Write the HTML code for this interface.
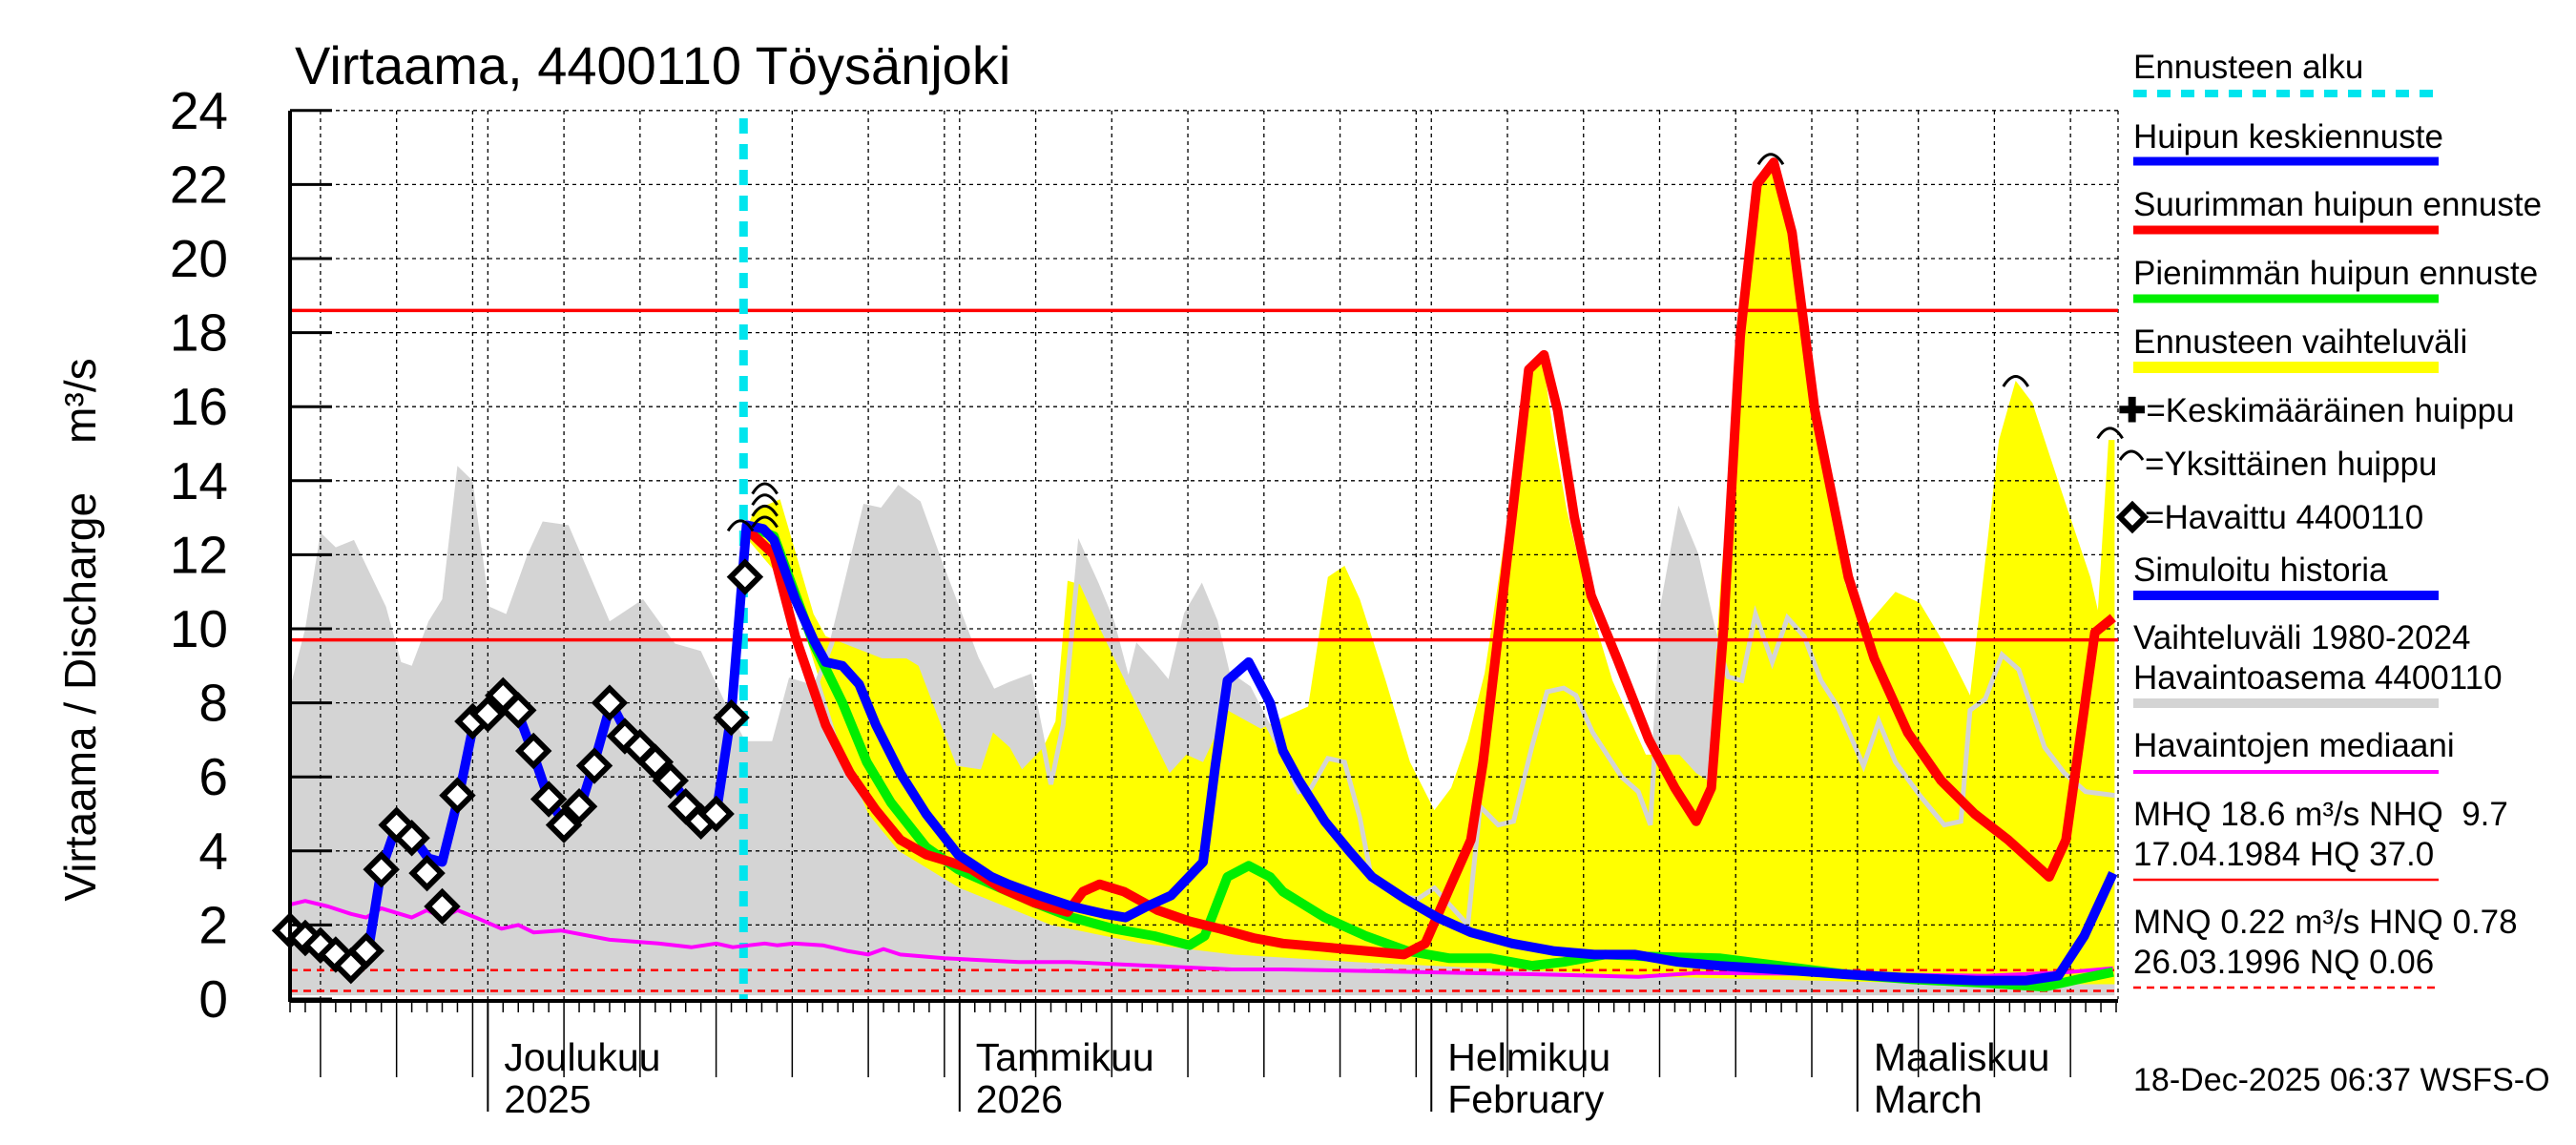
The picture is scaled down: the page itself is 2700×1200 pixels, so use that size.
<!DOCTYPE html>
<html><head><meta charset="utf-8"><style>
html,body{margin:0;padding:0;background:#fff}
svg{display:block}
text{font-family:"Liberation Sans",Arial,sans-serif;fill:#000}
</style></head><body>
<svg id="chart" width="2700" height="1200" viewBox="0 0 2700 1200" xmlns="http://www.w3.org/2000/svg">
<g id="bg"></g>
</svg>
<script>
// ---- data ----
const greyDays=[0,1,2,3,4.2,6.3,7.3,8,9.1,10,11,12,13.1,14.2,15.6,16.6,18.3,21,23.2,25.3,27,28.6,30,31.8,32.9,34.5,35.6,37.8,38.9,40,41.3,42.7,45.1,46.2,47.3,48.6,50,50.8,51.9,53,54,55.1,55.7,56.8,57.8,58.9,59.9,60.8,61.6,63,65.25,66.3,67.1,68.2,69.3,70.3,71.1,72.8,74.1,75.2,76.3,77.4,78.2,79.4,80.4,81.6,82.6,83.7,84.5,85.6,87.5,88.6,89.4,90.2,91.3,92.4,93.5,94.5,95.4,96.3,97.4,98.4,99.5,100.6,101.7,103.4,104.4,105.5,107.1,108.7,109.8,110.4,111.4,112.5,113.6,115.3,116.6,118,119.9];
const greyHigh=[8.4,10,12.6,12.2,12.4,10.6,9.1,9.0,10.2,10.8,14.4,14,10.6,10.4,12,12.9,12.8,10.2,10.8,9.6,9.4,8,6.9,6.9,8.6,8.4,9.6,13.3,13.2,13.8,13.4,11.8,9.2,8.3,8.5,8.7,5.8,7.4,12.2,11.2,10.2,8.5,9.5,9.0,8.5,10.4,11.1,10.2,8.8,8.4,6.6,5.6,5.7,6.5,6.4,4.9,3.2,2.8,2.7,3.0,2.5,2.0,5.2,4.7,4.8,6.8,8.3,8.4,8.2,7.2,6.0,5.6,4.7,10.6,13.1,12,10,8.7,8.6,10.4,9.1,10.3,9.8,8.6,7.9,6.3,7.5,6.4,5.5,4.7,4.8,7.8,8.1,9.3,8.9,6.8,6.1,5.6,5.5];
const greyLow=[0.1,0.1];
const yelDays=[29.9,30.5,32.2,34.4,35.2,38.9,40.5,41.3,43.8,45.4,46.2,47.3,48.1,49.5,50.3,51.1,51.9,53,55.1,57.8,58.9,60,61.6,63.8,65.25,66.9,68.2,69.3,70.3,72,73.6,75.2,76.3,77.4,78.5,80.1,81.2,82.3,83.1,83.9,85.3,86.9,89.1,91.3,92.4,93.2,94,95.1,96.2,97.3,98.4,100.1,102.2,103.4,105.5,107.1,108.7,110.4,112.3,113.4,114.5,116.1,118.3,118.8,119.5,119.9];
const yelHigh=[12.6,13.2,13.5,10.4,9.8,9.2,9.2,9.0,6.3,6.2,7.2,6.8,6.2,6.8,7.5,11.3,11.2,10.2,8.4,6.1,6.6,6.4,7.8,7.3,7.6,7.9,11.4,11.7,10.8,8.6,6.4,5.1,5.7,7.0,8.8,13.2,16.9,17.3,15.1,13.2,10.8,8.6,6.6,6.6,6.1,5.9,11.2,16.7,22,22.7,20.8,15.9,11.2,10,11,10.7,9.6,8.2,15.1,16.7,16.1,14.1,11.4,10.5,15.1,15.1];
const yelLowDays=[29.9,33,36,38,40,44,50,56,62,70,80,90,100,110,119.9];
const yelLow=[12.5,11,7,5,4,3,2,1.5,1.2,1.0,0.8,0.6,0.5,0.4,0.4];
const obsDays=[0,1,2,3,4,5,6,7,8,9,10,11,12,13,14,15,16,17,18,19,20,21,22,23,24,25,26,27,28,29,29.9];
const obsVals=[1.85,1.65,1.45,1.2,0.9,1.3,3.5,4.7,4.35,3.4,2.5,5.5,7.5,7.7,8.2,7.8,6.7,5.4,4.7,5.2,6.3,8.0,7.1,6.8,6.4,5.9,5.2,4.8,5.0,7.6,11.4];
const blueDays=[0,1,2,3,4.1,5.1,6,7.1,8.2,9.1,10,11.1,12.1,13.1,14.1,15,16,17,18.1,19.1,20,21.1,22.1,23.1,24.1,25.1,26.1,27.1,28,29,30,31.1,31.8,33.2,34.4,35.2,36.3,37.4,38.5,40.1,41.8,43.9,46.1,47.2,49.2,51.4,53.5,54.9,56.3,57.9,60,60.8,61.6,63,64.4,65.25,66.3,68,69.6,71.1,73.3,75.4,77.6,80.3,83,85.7,88.4,91.2,93.9,97.7,102.1,106.4,110.8,114.1,116.2,117.9,119.8];
const blueVals=[1.8,1.5,1.3,1.1,0.9,1.2,3.5,4.8,4.3,3.8,3.7,5.5,7.5,7.7,8.2,7.7,6.6,5.4,4.7,5.2,6.4,8,7.2,6.9,6.4,5.9,5.3,4.8,5.0,7.7,12.8,12.7,12.4,10.8,9.7,9.1,9.0,8.5,7.4,6.1,5.0,3.9,3.3,3.1,2.8,2.5,2.3,2.2,2.5,2.8,3.7,6.3,8.6,9.1,8,6.7,5.9,4.8,4.0,3.3,2.7,2.2,1.8,1.5,1.3,1.2,1.2,1.0,0.9,0.8,0.67,0.57,0.5,0.5,0.63,1.7,3.4];
const redDays=[30,31.8,33.2,35.2,36.8,38.5,40.1,41.8,43.4,44.8,46.7,48.9,51.1,52.1,53.2,54.8,57,59.1,61.1,63.3,65.25,68,70.7,73.2,74.6,76.2,77.6,78.4,79.5,80.6,81.4,82.4,83.3,84.4,85.5,87.2,89.3,91,92.4,93.4,94.2,95.3,96.4,97.5,98.7,100.2,102.4,104.1,106.3,108.5,110.7,112.9,115.6,116.7,118.6,119.8];
const redVals=[12.7,12.0,9.8,7.4,6.1,5.1,4.3,3.9,3.7,3.5,3.0,2.6,2.35,2.9,3.1,2.9,2.4,2.1,1.9,1.65,1.5,1.4,1.3,1.2,1.5,3.0,4.3,6.4,10.2,14.1,17.0,17.4,15.9,13,10.9,9.2,7.0,5.7,4.8,5.7,10,17.9,22.0,22.6,20.7,15.9,11.4,9.2,7.2,5.9,5.0,4.3,3.3,4.3,9.9,10.3];
const greenDays=[30,31.8,34.4,36.3,37.9,39.5,41.8,43.9,46.1,48.9,51.4,54.1,56.8,59.1,60.1,61.6,63,64.4,65.25,68,70.7,73.4,76.2,78.9,81.6,83.7,86.4,89.1,94,97.8,102.2,106.6,111.5,115.3,117.5,119.8];
const greenVals=[12.8,12.5,9.6,8.0,6.4,5.3,4.1,3.5,3.1,2.6,2.2,1.9,1.7,1.45,1.7,3.3,3.6,3.3,2.9,2.2,1.7,1.3,1.1,1.1,0.9,1.0,1.2,1.15,1.1,0.9,0.67,0.53,0.43,0.33,0.53,0.73];
const medDays=[0,1,2.5,4,5,6,8,9,10,11,12.2,13.9,15,16,17.8,21,24.2,26.4,28,29.1,31.2,32,33.1,35,36.6,38,39,40.1,43,47.9,51.2,56.5,61.9,65.25,81.6,88.6,92.4,103.4,111.5,116.9,119.8];
const medVals=[2.55,2.65,2.5,2.3,2.2,2.45,2.2,2.4,2.2,2.4,2.2,1.9,2.0,1.8,1.85,1.6,1.5,1.4,1.5,1.4,1.5,1.45,1.5,1.45,1.3,1.2,1.35,1.2,1.1,1.0,1.0,0.9,0.8,0.8,0.67,0.6,0.7,0.67,0.63,0.73,0.83];
const peakDays=[31.2,31.2,31.2,31.2,29.6,97.3,113.4,119.6];
const peakVals=[12.9,13.2,13.5,13.8,12.8,22.7,16.7,15.3];
const yTicks=[0,2,4,6,8,10,12,14,16,18,20,22,24];
const monthDays=[13,44,75,103];
const monthLabels=[["Joulukuu","2025"],["Tammikuu","2026"],["Helmikuu","February"],["Maaliskuu","March"]];
const gridDays=[2,7,12,18,23,28,33,38,43,49,54,59,64,69,74,80,85,90,95,100,107,112,117];
const fcDay=29.8, MHQ=18.6, NHQ=9.7, HNQ=0.78, MNQ=0.22;

// ---- axes ----
const X0=304, PXD=15.95, Y0=1047, PXV=38.8, XR=2220, YT=116;
const X=d=>X0+d*PXD, Y=v=>Y0-v*PXV;
const svg=document.getElementById('chart'), NS='http://www.w3.org/2000/svg';
function mk(tag,attrs,parent){const e=document.createElementNS(NS,tag);for(const k in attrs)e.setAttribute(k,attrs[k]);(parent||svg).appendChild(e);return e;}
function pts(ds,vs){return ds.map((d,i)=>X(d).toFixed(1)+','+Y(vs[i]).toFixed(1)).join(' ');}

let g=mk('polygon',{points:pts(greyDays,greyHigh)+' '+X(greyDays[greyDays.length-1])+','+Y(greyLow[1])+' '+X(0)+','+Y(greyLow[0]),fill:'#d4d4d4'});


const yl=yelLowDays.slice().reverse(), ylv=yelLow.slice().reverse();
let yb=mk('polygon',{points:pts(yelDays,yelHigh)+' '+pts(yl,ylv),fill:'#ffff00'});


const gi=greyDays.findIndex(d=>d>=fcDay);
let gl=mk('polyline',{points:pts(greyDays.slice(gi),greyHigh.slice(gi)),fill:'none',stroke:'#d4d4d4','stroke-width':5});



for(const v of yTicks){ if(v===0)continue;
 let l=mk('line',{x1:X0,x2:XR,y1:Y(v),y2:Y(v),stroke:'#000','stroke-width':1.3,'stroke-dasharray':'4,4'});
 
 
}
for(const d of gridDays.concat(monthDays)){
 let l=mk('line',{x1:X(d),x2:X(d),y1:YT,y2:Y0,stroke:'#000','stroke-width':1.3,'stroke-dasharray':'4,4'});
 
 
}
mk('line',{x1:XR,x2:XR,y1:YT,y2:Y0,stroke:'#000','stroke-width':1.3,'stroke-dasharray':'4,4'});

[[MHQ,'mhq-line',''],[NHQ,'nhq-line',''],[HNQ,'hnq-line','8,6'],[MNQ,'mnq-line','8,6']].forEach(r=>{
 let l=mk('line',{x1:X0,x2:XR,y1:Y(r[0]),y2:Y(r[0]),stroke:'#ff0000','stroke-width':r[2]?2.5:3.5,'stroke-dasharray':r[2]});
 
 
});

let fc=mk('line',{x1:X(fcDay),x2:X(fcDay),y1:YT+8,y2:Y0,stroke:'#00e5ee','stroke-width':9,'stroke-dasharray':'16,11'});



function line(ds,vs,col,w,name){let p=mk('polyline',{points:pts(ds,vs),fill:'none',stroke:col,'stroke-width':w,'stroke-linejoin':'round'});
 
 return p;}
line(medDays,medVals,'#ff00ff',4,'median-line');
line(greenDays,greenVals,'#00ee00',10,'min-peak-forecast-line');
line(redDays,redVals,'#ff0000',10,'max-peak-forecast-line');
line(blueDays,blueVals,'#0000ff',10,'mean-forecast-line');

obsDays.forEach((d,i)=>{const x=X(d),y=Y(obsVals[i]),s=15;
 let p=mk('polygon',{points:`${x},${y-s} ${x+s},${y} ${x},${y+s} ${x-s},${y}`,fill:'#fff',stroke:'#000','stroke-width':6});
 
 
});
peakDays.forEach((d,i)=>{const x=X(d),y=Y(peakVals[i]);
 let p=mk('path',{d:`M${x-13},${y+6} Q${x},${y-15} ${x+13},${y+6}`,fill:'none',stroke:'#000','stroke-width':3});
 
 
});

mk('line',{x1:X0,x2:X0,y1:YT,y2:Y0+3,stroke:'#000','stroke-width':4});
mk('line',{x1:X0,x2:XR,y1:Y0+2,y2:Y0+2,stroke:'#000','stroke-width':4});
yTicks.forEach(v=>{
 mk('line',{x1:X0,x2:X0+44,y1:Y(v),y2:Y(v),stroke:'#000','stroke-width':3});
 let t=mk('text',{x:239,y:Y(v)+19,'text-anchor':'end','font-size':55});t.textContent=v;
 
 
});
for(let d=0;d<=120;d++){ if(X(d)>XR)break;
 const big=monthDays.includes(d), mid=gridDays.includes(d);
 mk('line',{x1:X(d),x2:X(d),y1:Y0,y2:Y0+(big?118:mid?82:14),stroke:'#000','stroke-width':big?2:1.5});
}
monthDays.forEach((d,i)=>{
 let t=mk('text',{x:X(d)+17,y:1122,'font-size':41});t.textContent=monthLabels[i][0];
 
 
 let t2=mk('text',{x:X(d)+17,y:1166,'font-size':41});t2.textContent=monthLabels[i][1];
 
 
});
</script>
<svg style="position:absolute;left:0;top:0" width="2700" height="1200" xmlns="http://www.w3.org/2000/svg">
<text x="309" y="88" font-size="56">Virtaama, 4400110 Töysänjoki</text>
<text transform="translate(100,660) rotate(-90)" text-anchor="middle" font-size="46">Virtaama / Discharge &#160;&#160; m³/s</text>
<g font-size="35">
<text x="2236" y="82">Ennusteen alku</text>
<line x1="2236" x2="2556" y1="98" y2="98" stroke="#00e5ee" stroke-width="8" stroke-dasharray="14,11"/>
<text x="2236" y="155">Huipun keskiennuste</text>
<line x1="2236" x2="2556" y1="169" y2="169" stroke="#0000ff" stroke-width="9"/>
<text x="2236" y="226">Suurimman huipun ennuste</text>
<line x1="2236" x2="2556" y1="241" y2="241" stroke="#ff0000" stroke-width="9"/>
<text x="2236" y="298">Pienimmän huipun ennuste</text>
<line x1="2236" x2="2556" y1="313" y2="313" stroke="#00ee00" stroke-width="9"/>
<text x="2236" y="370">Ennusteen vaihteluväli</text>
<line x1="2236" x2="2556" y1="385" y2="385" stroke="#ffff00" stroke-width="12"/>
<text x="2220" y="442"><tspan font-weight="bold">✚</tspan>=Keskimääräinen huippu</text>
<path d="M2222,482 Q2234,464 2246,482" fill="none" stroke="#000" stroke-width="3"/>
<text x="2248" y="498">=Yksittäinen huippu</text>
<polygon points="2235,529 2248,542 2235,555 2222,542" fill="#fff" stroke="#000" stroke-width="6"/>
<text x="2248" y="554">=Havaittu 4400110</text>
<text x="2236" y="609">Simuloitu historia</text>
<line x1="2236" x2="2556" y1="624" y2="624" stroke="#0000ff" stroke-width="10"/>
<text x="2236" y="680">Vaihteluväli 1980-2024</text>
<text x="2236" y="722">Havaintoasema 4400110</text>
<line x1="2236" x2="2556" y1="737" y2="737" stroke="#d4d4d4" stroke-width="10"/>
<text x="2236" y="793">Havaintojen mediaani</text>
<line x1="2236" x2="2556" y1="809" y2="809" stroke="#ff00ff" stroke-width="4"/>
<text x="2236" y="865">MHQ 18.6 m³/s NHQ &#160;9.7</text>
<text x="2236" y="907">17.04.1984 HQ 37.0</text>
<line x1="2236" x2="2556" y1="922" y2="922" stroke="#ff0000" stroke-width="2.5"/>
<text x="2236" y="978">MNQ 0.22 m³/s HNQ 0.78</text>
<text x="2236" y="1020">26.03.1996 NQ 0.06</text>
<line x1="2236" x2="2556" y1="1035" y2="1035" stroke="#ff0000" stroke-width="2.5" stroke-dasharray="8,6"/>
</g>
<text x="2236" y="1143" font-size="34">18-Dec-2025 06:37 WSFS-O</text>
</svg>
</body></html>
